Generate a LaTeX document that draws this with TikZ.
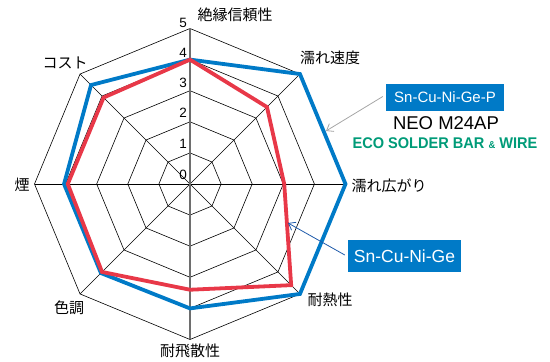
\documentclass[tikz,border=0pt]{standalone}
\usepackage{fontspec}
\setmainfont{Liberation Sans}
\newfontfamily\jp{Noto Sans CJK JP}
\usetikzlibrary{arrows.meta}
\definecolor{cblue}{RGB}{0,122,199}
\definecolor{cred}{RGB}{232,56,72}
\definecolor{cgreen}{RGB}{0,155,120}
\definecolor{arrblue}{RGB}{30,90,170}
\definecolor{axgray}{RGB}{110,110,110}
\tikzset{
  ring/.style={draw=black,line width=0.6pt},
  spoke/.style={draw=black,line width=0.6pt},
  vaxis/.style={draw=axgray,line width=1.2pt},
  bluedata/.style={draw=cblue,line width=3.8pt,line join=miter},
  reddata/.style={draw=cred,line width=3.8pt,line join=miter},
  axlabel/.style={font=\jp\fontsize{15}{16}\selectfont,inner sep=0pt},
  numlabel/.style={font=\fontsize{13.5}{14}\selectfont,inner sep=0pt,anchor=south east},
  legbox/.style={fill=cblue,text=white,inner sep=0pt,minimum height=27pt},
  callout/.style={line width=0.8pt,-{Straight Barb[length=6pt,width=9pt]}},
}
\begin{document}
\begin{tikzpicture}[x=1pt,y=1pt]
\useasboundingbox (0,0) rectangle (550,362);
\begin{scope}[shift={(190,178)}]
  \coordinate (O) at (0,0);
  % rings
  \foreach \r in {1,...,5}{
    \draw[ring] (90:{\r*31.1}) -- (45:{\r*31.1}) -- (0:{\r*31.1}) -- (-45:{\r*31.1})
      -- (-90:{\r*31.1}) -- (-135:{\r*31.1}) -- (180:{\r*31.1}) -- (135:{\r*31.1}) -- cycle;
  }
  % spokes
  \foreach \a in {45,0,-45,-135,180,135}{
    \draw[spoke] (O) -- (\a:155.5);
  }
  \draw[vaxis] (-90:155.5) -- (90:155.5);
  % data
  \draw[bluedata] (90:{4*31.1}) -- (45:{5*31.1}) -- (0:{5*31.1}) -- (-45:{5*31.1})
      -- (-90:{4*31.1}) -- (-135:{4.05*31.1}) -- (180:{4.05*31.1}) -- (135:{4.5*31.1}) -- cycle;
  \draw[reddata] (90:{4*31.1}) -- (45:{3.5*31.1}) -- (0:{3.03*31.1}) -- (-45:{4.6*31.1})
      -- (-90:{3.4*31.1}) -- (-135:{4*31.1}) -- (180:{3.93*31.1}) -- (135:{3.93*31.1}) -- cycle;
\end{scope}
% ring numbers
\node[numlabel] (n0) at (187,182) {0};
\node[numlabel] (n1) at (187,213.5) {1};
\node[numlabel] (n2) at (187,244) {2};
\node[numlabel] (n3) at (187,274) {3};
\node[numlabel] (n4) at (187,304) {4};
\node[numlabel] (n5) at (187,334.5) {5};
% axis labels
\node[axlabel] (l1) at (235,347) {絶縁信頼性};
\node[axlabel] (l2) at (330,304) {濡れ速度};
\node[axlabel] (l3) at (389,176) {濡れ広がり};
\node[axlabel] (l4) at (330,62) {耐熱性};
\node[axlabel] (l5) at (190,11) {耐飛散性};
\node[axlabel] (l6) at (69,54) {色調};
\node[axlabel] (l7) at (22,177) {煙};
\node[axlabel] (l8) at (65,299) {コスト};
% legend 1
\node[legbox,minimum width=118pt,font=\fontsize{15}{16}\selectfont] (b1) at (445,264.5) {Sn-Cu-Ni-Ge-P};
\node[inner sep=0pt,font=\fontsize{18.5}{20}\selectfont] (neo) at (446,238.5) {NEO M24AP};
\node[inner sep=0pt,text=cgreen,font=\bfseries\fontsize{15.5}{16}\selectfont] (eco) at (445,218.5) {\scalebox{0.94}[1]{ECO SOLDER BAR {\fontsize{10}{12}\selectfont\&} WIRE}};
\coordinate (t1) at (326,231);
\draw[callout,draw=gray!70] (b1.west) ++(-3,1) -- (t1);
% legend 2
\node[legbox,minimum width=113pt,minimum height=32pt,font=\fontsize{17.5}{19}\selectfont] (b2) at (404.5,106) {Sn-Cu-Ni-Ge};
\coordinate (t2) at (288,139);
\draw[callout,draw=arrblue] (b2.west) ++(-3,1) -- (t2);
\end{tikzpicture}
\end{document}
